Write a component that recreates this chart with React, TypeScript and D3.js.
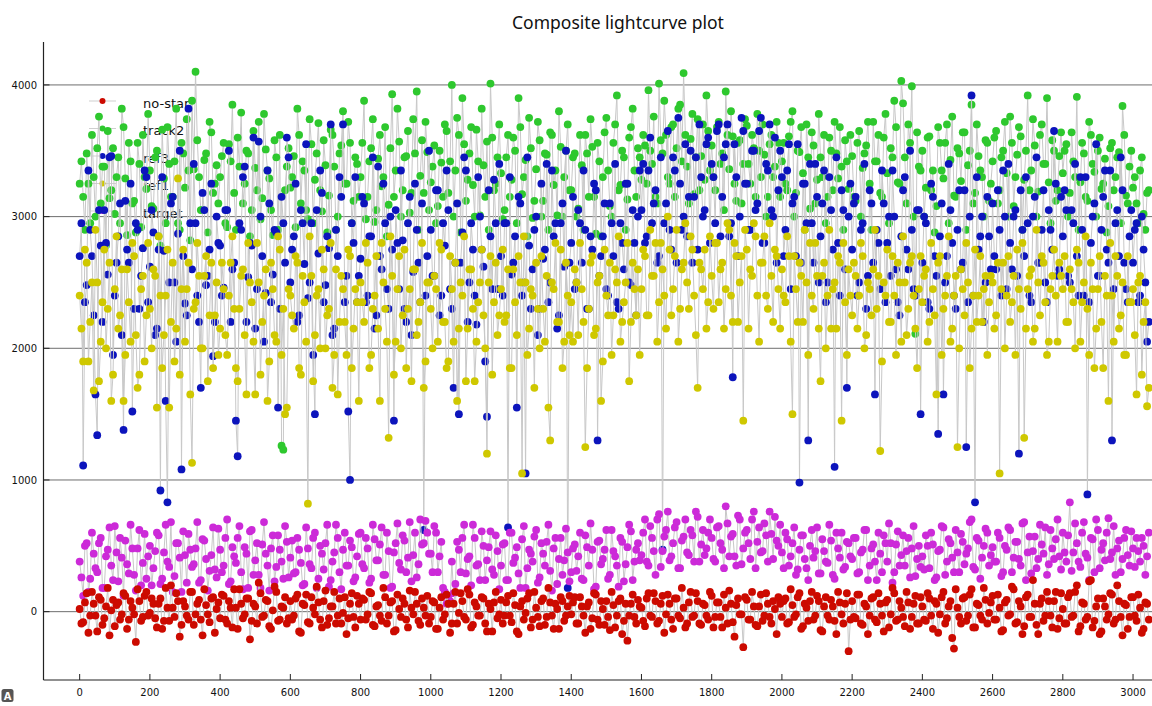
import React from "react";
import * as d3 from "d3";

const W = 1152;
const H = 706;

// frames are sampled every 10 units; the "B" lists hold the frames half a step later
const frameStep = 10;
const halfStep = 5;

const seriesNames = ["no-star", "track2", "ref3", "ref1", "target"];
const seriesColors = ["#cc0a00", "#2ec82e", "#0c14bc", "#cfc800", "#cc2ad8"];
const drawOrder = ["track2", "ref3", "ref1", "target", "no-star"];

const xTicks = [0, 200, 400, 600, 800, 1000, 1200, 1400, 1600, 1800, 2000, 2200, 2400, 2600, 2800, 3000];
const yTicks = [0, 1000, 2000, 3000, 4000];

const track2A = [
  3250,3150,3480,2950,3300,3520,3100,3380,3650,3200,3020,3450,3820,3290,3560,3100,2880,3400,3620,3210,
  3350,3060,3500,2780,3290,3680,3150,3420,2950,3560,3220,3350,3880,4100,3300,3050,3480,3720,3180,3390,
  3300,3560,2920,3420,3180,3600,3790,3250,3480,3050,3370,3720,3140,3510,3290,2860,3450,3620,1230,3380,
  3220,3460,3820,3100,3350,2980,3550,3280,3710,3040,3390,3160,3620,2900,3480,3800,3250,3560,3120,3400,
  3300,3880,3150,3520,2960,3440,3230,3680,3090,3930,3350,3570,3200,3460,3030,3740,3950,3310,3180,3490,
  3260,3540,3080,3410,3700,3180,4000,3350,3620,3900,3120,3480,3240,3660,3010,3390,3570,4010,3200,3450,
  3330,3050,3620,3280,3500,3900,3170,3430,3750,2990,3360,3580,3120,3470,3640,3240,3010,3530,3300,3700,
  3200,3480,3060,3390,3620,3150,3530,2870,3420,3300,3750,3080,3560,3920,3240,3450,3130,3680,3350,3520,
  3280,3540,3960,3400,3150,4010,3480,3620,3250,3700,3520,3850,4090,3380,3590,3170,3740,3460,3280,3650,
  3540,3200,3720,3480,3950,3360,3610,3120,3580,3400,3690,3250,3520,3780,3300,3470,3150,3620,3380,3560,
  3420,3250,3610,3800,3180,3490,3330,3700,3060,3540,3280,3450,3620,3150,3500,3720,3290,3380,3580,3210,
  3460,3120,3650,3370,3540,3250,3720,3420,3180,3600,3330,3520,3880,3260,4030,3450,3700,3990,2110,3380,
  3500,3220,3610,3350,3080,3560,3290,3700,3430,3160,3520,3270,3640,3390,3850,3180,3460,3300,3580,3120,
  3420,3650,3200,3500,3330,3760,3080,3470,3610,3280,3920,3350,3540,3190,3700,3400,3260,3580,3120,3460,
  3330,3550,3180,3420,3910,3260,3480,3120,3620,3340,3500,3210,3440,3080,3560,3300,3490,3840,3160,3380,
  3220,3100,3350,3020,3180,
];
const track2B = [
  3420,2900,3250,3620,3000,3760,3380,2780,3140,3520,3300,2950,3680,2860,3420,3120,3560,2920,3300,3780,
  3080,3450,2850,3660,2950,3400,3150,3820,2900,3480,3740,2820,3360,3580,3050,3430,2880,3640,3250,3100,
  3460,2950,3550,3850,2900,3380,3100,3500,2850,3650,3200,2980,3780,3350,3050,3580,2900,1260,3200,3520,
  3300,2920,3620,3420,3050,3740,2950,3480,3200,3580,2880,3660,3380,3000,3540,3250,3720,2950,3450,3150,
  3560,2980,3420,3740,3050,3620,3300,2850,3520,3150,3820,3000,3450,3650,3180,3480,2900,3580,3720,3050,
  3380,2950,3500,3150,3650,3420,3000,3750,2880,3550,3280,3680,3000,3420,3820,3150,2900,3600,3250,3700,
  2980,3450,3150,3600,2950,3680,3300,2850,3520,3120,3720,3000,3480,2900,3620,3350,3800,3000,3500,3200,
  3450,3000,3620,2900,3480,3740,3150,3560,2850,3640,3350,3000,3700,3200,3500,2900,3600,3820,3150,3450,
  3620,3250,3500,3760,3100,3580,3880,3300,3680,3150,3820,3420,3620,3100,3780,3450,3200,3700,3920,3350,
  3300,3680,3400,3050,3620,3800,3250,3560,3100,3740,3400,3620,3150,3500,3700,3000,3550,3300,3720,3150,
  3560,3200,3720,3000,3500,3680,2900,3450,3640,3100,3780,3300,2950,3600,3200,3480,3680,2900,3420,3620,
  3150,3560,3000,3480,3720,2900,3420,3620,3150,3780,2950,3450,3680,3250,3860,3100,3560,3000,3640,3350,
  3000,3600,3200,2880,3680,3350,3560,2950,3760,3150,3480,3640,2900,3500,3100,3700,3350,3000,3560,3250,
  3600,3100,3450,3720,3000,3560,3300,3680,2900,3500,3200,3740,3000,3620,3400,3900,2950,3500,3200,3640,
  3500,3000,3640,3300,2900,3560,3150,3720,3400,3000,3600,3250,2880,3520,3200,3450,2950,3620,3100,3500,
  3300,2950,3450,2900,3200,
];

const ref3A = [
  2700,1110,2480,2900,2250,1340,2780,3050,2560,3460,2400,2850,2100,3120,2650,1520,2950,2300,2760,3300,
  2620,2880,2150,920,2740,830,3100,2500,2870,1080,2340,3820,2600,2950,2200,3180,2480,2750,1940,3000,
  2780,2460,3050,2200,2650,1180,2900,3380,2540,2780,2150,3570,2700,2420,3100,2560,2880,2300,2950,3600,
  2500,2850,2200,3050,2640,2380,2950,1500,2720,3180,2480,2760,2100,2900,3300,3700,2550,1000,2800,2350,
  2680,3100,2400,2850,2150,3380,2600,2950,2300,2750,3050,2450,2820,2200,3150,2580,2900,2350,620,2700,
  2900,2550,3200,2400,2780,3050,2300,2650,1500,2880,3350,2500,2750,2180,3000,2620,1480,2850,3280,2450,
  2700,2950,640,2560,2850,3150,2400,1050,2780,2600,3000,2300,2680,3400,2500,2850,2150,2950,2620,180,
  2800,2450,3050,2650,2900,2300,2750,3200,2550,2850,2450,3100,2700,2350,2950,2600,3250,2480,2800,3000,
  3050,2800,3350,2950,3200,2700,470,3100,2900,3450,2650,3250,3000,2850,3500,3150,2750,3300,3050,3600,
  3400,2950,3700,3150,3550,2850,1780,3300,3000,3650,3250,2900,3500,3100,3750,2800,3350,3050,3600,3200,
  3300,2900,3550,3100,2700,980,3250,2950,3400,2650,3150,2850,3350,2500,3050,1100,2800,3200,2600,3000,
  2750,3150,2500,2950,2300,3200,2650,2900,2450,3100,2800,2550,3000,2350,2850,3300,2600,2900,2400,3050,
  2650,2950,2300,3150,2550,2850,1650,2700,3050,2400,2900,2600,3200,2350,3920,830,2750,3000,2500,2850,
  3100,2600,2900,3350,2450,2800,3000,2550,3200,2700,2950,2350,3150,2650,2900,2500,3050,2750,3250,2600,
  2850,3050,2500,2950,2700,3300,2400,890,2800,3100,2550,2900,3350,2650,1300,2950,2700,3200,2450,2850,
  2650,2950,2400,2750,2050,
];
const ref3B = [
  2950,2350,3350,2700,1650,3050,2200,2800,3450,1950,2650,3100,1380,2750,3250,2300,2900,2550,3350,2350,
  3050,2100,2750,3300,1600,2500,3150,2050,3500,2700,2250,2950,3400,2400,1700,3050,2550,3250,2200,2800,
  2400,3050,3500,2600,1450,2950,3300,2200,2800,3600,2450,3000,2050,3350,2350,2900,1550,3150,2650,3450,
  2750,3250,2250,2950,3550,2500,1950,3050,3350,2350,2850,3700,2150,2700,3150,2350,1520,2950,3300,2550,
  3150,2350,2850,3450,2250,2700,3250,2450,3000,1450,2800,3350,2300,2950,2100,3250,2650,3100,2400,3500,
  2550,3200,2250,2950,3350,2450,1700,3100,2650,3450,2200,2950,2400,3300,2750,1900,3200,2450,2950,3400,
  2400,2950,3300,2650,1550,3100,2500,3450,2300,2900,2100,3250,2750,2350,3350,2950,2250,3100,3500,2650,
  3150,2500,2950,3350,2300,2850,3250,1300,2700,3100,2400,2950,3400,2300,2800,3250,2500,3050,2250,3350,
  3400,2850,3600,3100,2650,3450,2950,3650,2750,3350,3750,2900,3550,3150,2650,3450,3700,3000,3550,2800,
  3300,3650,2850,3450,3700,2950,3550,2700,3750,3250,2900,3500,3050,3650,2800,3400,3700,3000,2650,3500,
  2700,3350,2450,3150,3550,2650,3250,1300,2950,3400,2500,3100,2350,3300,2750,3450,2400,3050,1700,3250,
  3100,2400,2900,3400,2550,3100,1650,2800,3350,2350,3000,3350,2600,2250,3200,2750,3500,2450,3050,1500,
  3000,2350,3250,2700,1350,3100,2500,3400,2800,2300,3200,2650,1250,3000,2400,3300,2850,2200,3150,2600,
  2700,3200,2400,3000,3400,2600,3050,1200,2900,3300,2400,3000,3450,2650,3200,2350,2900,3650,2550,3150,
  3200,2550,3050,3400,2400,2900,3300,2350,3000,3550,2550,3150,2750,3350,2450,3050,3450,2650,2350,3050,
  2900,2350,3000,2500,2200,
];

const ref1A = [
  2400,1900,2650,2200,1680,2500,2050,2750,2300,1600,2450,2150,2600,1950,2350,2800,2100,1800,2550,2250,
  2300,2600,1550,2400,2100,2750,2200,1900,3290,2450,2050,2650,1130,2350,2550,2000,2700,2250,1850,2500,
  2150,2450,1950,2650,2300,1750,2550,2100,2800,2350,1650,2500,2200,2600,1900,2450,2050,2750,2300,1550,
  2400,2150,2650,1800,2350,820,2550,2100,2450,2750,2000,2300,1700,2600,2200,2450,1950,2700,2150,2350,
  2500,2200,2650,1950,2400,2150,2800,2300,1320,2550,2050,2700,2250,1850,2450,2600,2100,2350,1700,2500,
  2300,2550,2050,2750,2200,1900,2450,2650,2150,2400,1750,2600,2300,2050,2500,2250,1200,2700,2350,2100,
  2450,2200,2600,1850,2350,2700,1050,2500,2150,2400,2650,2000,2300,2550,1300,2450,2200,2750,2050,2400,
  2350,2600,2100,2450,1250,2300,2700,2150,2550,1900,2400,2650,2250,2500,2050,2350,2800,2200,2450,2600,
  2450,2700,2250,2550,2800,2350,2600,2150,2750,2450,2900,2300,2650,2500,2850,2400,1700,2600,2750,2350,
  2550,2800,2350,2650,2450,2900,2200,2700,2500,1450,2750,2600,2950,2400,2650,2850,2300,2550,2750,2450,
  2600,2350,2700,1500,2450,2650,2200,2500,2800,2300,2550,1750,2650,2400,2150,2500,2700,1450,2350,2600,
  2250,2550,2400,2700,2100,2450,2600,2300,1220,2500,2750,2200,2400,2650,2050,2500,2300,2700,2150,2450,
  2350,2600,2200,2450,1650,2700,2300,2550,2050,2400,1250,2600,2250,2500,2150,2750,2400,2200,2550,2350,
  2500,2250,1050,2650,2400,2200,2550,2750,2300,1320,2450,2600,2150,2500,2700,2350,2050,2550,2400,2650,
  2450,2200,2600,2350,2750,2050,2500,2300,2650,1850,2450,2200,2550,1600,2400,2700,2150,2500,1950,2350,
  2450,1650,2550,2200,1560,
];
const ref1B = [
  2150,2750,1900,2500,2900,1750,2350,2000,2650,1800,2850,2250,1600,2600,2050,2700,1700,2450,1900,2800,
  2000,2550,2850,1850,2400,1550,2650,2150,1800,2750,2450,1650,2300,2800,2000,2550,1750,2650,2250,1950,
  2650,2100,2400,2850,1850,2300,2600,1650,2500,2050,2800,1800,2400,1600,2650,2100,2850,1950,1500,2450,
  2250,2700,1850,2550,2050,2850,1750,2400,2000,2600,2250,2800,1950,1650,2550,2200,2750,1850,2450,1600,
  2350,2800,1850,2300,2700,1600,2500,2050,2850,1800,2450,2000,2750,2300,1750,2600,2200,2800,1900,2500,
  2000,2450,2800,2200,1850,2700,2050,1600,2500,2850,2150,2600,1750,2350,2750,2000,2500,1800,2650,2250,
  2750,2250,1850,2600,2100,2500,2850,1950,2450,1700,2300,2700,2050,1550,2500,2800,2200,1850,2650,2100,
  2050,2500,2800,2200,1850,2650,2100,2500,1600,2750,2250,1950,2600,2850,2200,2500,1750,2650,2250,1950,
  2750,2250,2900,2550,2050,2800,2400,3000,2250,2700,2050,2600,2950,2300,2750,2100,2650,2450,2150,2850,
  2300,2800,2600,2150,2950,2400,2800,2200,2700,2900,2150,2550,2850,2050,2650,2400,2950,2200,2700,2150,
  2400,2850,2050,2700,2200,2550,2900,1950,2400,2800,2150,2550,2000,2900,2450,2150,2650,2800,1950,2400,
  2650,2150,2800,2000,2500,2250,2900,2550,1900,2400,2200,2700,1950,2500,2850,2100,2650,2400,1850,2700,
  2550,2050,2800,2250,2650,1950,2400,2850,2150,2550,2000,2450,2800,1850,2400,2200,2700,2450,1950,2550,
  2150,2650,2450,2000,2700,2350,1950,2450,2800,2150,2550,2050,2900,2250,2650,1950,2450,2750,2050,2550,
  2700,2200,2450,2000,2650,2350,2850,1950,2450,2150,2700,1850,2400,2800,2050,2550,2250,1950,2700,2350,
  2100,2500,1800,2350,1700,
];

const targetA = [
  380,120,520,250,440,300,560,180,470,350,650,230,410,540,290,480,160,620,370,250,
  500,330,600,210,450,380,680,270,520,150,430,590,340,480,220,550,400,310,640,260,
  470,350,700,230,420,560,300,490,180,620,390,280,510,440,160,580,340,470,250,530,
  410,290,560,370,210,480,330,600,250,440,520,190,380,660,300,470,350,540,230,420,
  600,330,480,250,550,390,640,280,460,190,520,370,580,300,680,430,260,700,520,600,
  440,650,300,530,150,120,380,210,470,560,290,420,660,350,240,500,390,610,280,460,
  350,520,240,600,410,290,550,180,470,380,620,260,440,530,310,480,210,560,390,450,
  300,510,420,250,580,350,470,190,540,400,620,280,460,350,560,230,490,610,380,520,
  430,700,350,560,280,740,460,620,390,520,680,330,570,450,620,380,720,510,430,600,
  560,380,650,470,800,420,590,350,700,480,620,400,760,530,450,670,380,590,720,500,
  450,600,350,520,280,470,580,330,500,410,640,290,460,370,540,250,480,600,340,520,
  400,560,300,470,620,350,510,240,440,580,380,520,300,610,430,350,560,480,270,500,
  420,580,330,510,260,470,640,380,520,300,450,590,360,480,700,320,540,410,630,350,
  490,380,560,300,470,620,410,530,350,680,450,290,570,400,510,640,360,480,550,420,
  600,380,830,450,520,340,680,410,560,300,620,470,390,710,450,280,540,400,620,350,
  480,560,380,500,420,
];
const targetB = [
  260,500,150,600,330,520,180,420,640,240,450,560,120,360,660,280,480,200,590,420,
  200,460,580,250,660,340,150,520,410,610,220,470,360,680,240,540,160,430,320,630,
  300,560,210,490,370,650,170,440,610,280,520,180,680,350,480,230,580,380,650,260,
  540,300,470,200,640,360,560,180,500,320,660,240,450,560,170,600,350,490,260,590,
  360,560,220,660,390,510,280,600,180,450,670,320,540,410,230,600,360,510,690,440,
  300,600,420,180,60,80,140,530,300,660,400,200,560,360,610,240,490,320,580,170,
  510,240,600,370,490,180,650,330,440,570,220,520,350,660,160,560,400,280,630,230,
  480,310,600,240,490,670,170,530,360,470,250,620,420,190,530,360,660,240,470,390,
  600,380,650,460,700,340,570,760,420,640,330,540,700,430,580,760,380,620,480,700,
  400,640,520,330,670,570,420,730,360,600,520,700,330,640,460,580,760,400,540,660,
  330,550,420,640,320,580,400,240,620,460,290,550,380,660,280,600,410,320,530,420,
  560,290,450,620,240,480,380,600,300,520,670,220,510,350,580,460,260,650,400,340,
  320,500,600,240,460,650,280,550,410,620,300,530,440,680,340,560,250,500,600,430,
  380,600,270,500,640,300,530,400,670,240,570,460,330,660,440,280,620,400,700,320,
  450,580,310,670,380,600,440,240,550,700,330,520,600,400,650,480,300,560,430,610,
  340,460,560,280,600,
];

const noStarA = [
  20,-80,140,-30,60,-150,90,-50,180,10,-110,70,-20,120,-60,30,-230,80,-40,150,
  -10,60,-120,100,-70,30,200,-40,80,-100,40,-60,150,-20,90,-180,50,-80,110,20,
  -50,120,-90,30,170,-130,60,-20,100,-70,40,220,-40,90,-110,10,150,-60,30,-90,
  80,-30,130,-160,50,-80,110,-20,70,-120,160,-50,40,-90,100,-10,-170,60,-40,120,
  -60,90,-20,140,-110,50,-70,110,-30,80,-140,20,100,-60,160,-20,60,-100,30,120,
  -40,70,-130,110,-20,60,-90,150,-10,80,-60,130,-100,40,-30,100,-150,20,70,-50,
  90,-30,120,-80,50,-170,80,-10,140,-60,30,-110,100,-40,70,-130,20,110,-70,40,
  -20,110,-90,40,-160,70,-50,130,-100,20,80,-140,50,-30,100,-70,-220,60,-40,90,
  30,-110,140,-40,80,-70,120,-20,60,-130,100,-50,30,-90,150,-30,80,-100,50,-60,
  120,-40,70,-120,30,160,-80,50,-20,-270,90,-60,40,-110,130,-30,60,-90,20,110,
  -40,100,-80,50,-20,140,-110,30,80,-60,120,-140,40,-30,90,-70,150,-20,60,-300,
  80,-50,130,-100,40,-30,110,-80,60,-150,90,-20,140,-60,30,-110,70,-40,120,-90,
  40,-70,100,-130,60,-20,150,-50,80,-280,30,-90,110,-30,170,-120,50,-60,90,-10,
  120,-60,30,-140,90,-20,170,-80,40,-110,130,-40,60,-170,100,-30,80,-120,150,-50,
  20,-90,140,-30,200,-110,60,-40,240,-70,100,-150,40,-20,130,-60,80,-180,50,-40,
  110,-70,30,-130,60,
];
const noStarB = [
  -90,70,-160,150,-30,110,-100,40,-180,90,50,-60,140,-130,80,-20,170,-70,120,-30,
  100,-50,60,-130,180,-70,30,140,-190,80,-30,150,-100,60,-60,170,-20,100,-160,70,
  130,-60,80,-120,30,170,-50,100,-210,60,-90,140,-30,80,-130,190,-70,40,110,-50,
  -60,100,-150,60,130,-90,30,190,-60,80,-100,40,150,-30,-90,110,-50,140,-120,60,
  100,-60,150,-100,40,-30,180,-90,70,-150,130,-40,60,-120,30,150,-70,100,-30,-90,
  80,-130,30,-60,130,-160,60,-90,140,-40,170,-120,70,-30,110,-90,60,-150,150,-20,
  -90,70,-30,140,-150,40,-60,100,-120,150,-40,80,-100,180,-30,60,-130,80,-30,120,
  70,-90,110,-30,40,-130,140,-60,80,-100,-40,150,-120,80,-170,60,-30,130,-90,40,
  -70,100,-30,140,-90,60,-160,130,-60,100,-30,180,-120,70,-40,140,-90,60,-30,150,
  -120,70,-40,130,-90,60,-190,100,-20,110,-60,150,-100,40,-70,140,-40,80,-170,60,
  80,-90,170,-40,110,-130,60,-70,150,-30,80,-150,110,-60,40,-170,70,-90,140,-60,
  -40,130,-90,60,-170,100,-60,140,-30,70,-120,180,-70,80,-40,150,-130,60,-90,110,
  -60,140,-30,80,-160,110,-90,40,-200,170,-40,100,-70,130,-120,60,-30,180,-90,70,
  -60,130,-150,70,-30,190,-90,80,-170,110,-40,240,-100,60,-70,150,-30,80,-130,140,
  -90,110,-40,150,-150,70,-60,230,-120,40,-170,100,-60,140,-90,200,-40,60,-130,110,
  -30,130,-160,70,-60,
];

const seriesLists: Record<string, [number[], number[]]> = {
  "no-star": [noStarA, noStarB],
  track2: [track2A, track2B],
  ref3: [ref3A, ref3B],
  ref1: [ref1A, ref1B],
  target: [targetA, targetB],
};

type Pt = [number, number];
function toPoints(a: number[], b: number[]): Pt[] {
  const out: Pt[] = [];
  a.forEach((v, i) => {
    out.push([i * frameStep, v]);
    if (i < b.length) out.push([i * frameStep + halfStep, b[i]]);
  });
  return out;
}

const plotLeft = 43.5;
const plotRight = W;
const plotTop = 42;
const plotBottom = 680;

export default function App() {
  const x = d3.scaleLinear().domain([-103, 3054]).range([plotLeft, plotRight]);
  const y = d3.scaleLinear().domain([-519, 4326]).range([plotBottom, plotTop]);
  const color = d3.scaleOrdinal<string, string>().domain(seriesNames).range(seriesColors);

  const line = d3
    .line<Pt>()
    .x((d) => x(d[0]))
    .y((d) => y(d[1]));

  const legendY = d3.scalePoint<string>().domain(seriesNames).range([101, 211]);

  return (
    <svg
      width={W}
      height={H}
      style={{ position: "absolute", left: 0, top: 0, background: "#fff" }}
      fontFamily="'DejaVu Sans', Verdana, sans-serif"
    >
      <defs>
        <clipPath id="plotClip">
          <rect x={plotLeft} y={plotTop} width={plotRight - plotLeft} height={plotBottom - plotTop} />
        </clipPath>
      </defs>
      <rect x={0} y={0} width={W} height={H} fill="#fff" />

      <text x={618} y={29} textAnchor="middle" fontSize={17.5} fontFamily="'Noto Sans', 'Open Sans', sans-serif" fill="#111">
        Composite lightcurve plot
      </text>

      {yTicks.map((t) => (
        <line key={"g" + t} x1={plotLeft} x2={plotRight} y1={y(t)} y2={y(t)} stroke="#6e6e6e" strokeWidth={1} />
      ))}

      {seriesNames.map((s) => (
        <g key={"lg" + s}>
          <line x1={89} x2={116} y1={legendY(s)} y2={legendY(s)} stroke="#cfcfcf" strokeWidth={1} />
          <circle cx={102.5} cy={legendY(s)} r={3} fill={color(s)} />
          <text x={143} y={(legendY(s) as number) + 6.5} fontSize={13} fill="#111">
            {s}
          </text>
        </g>
      ))}

      <g clipPath="url(#plotClip)">
        {drawOrder.map((s) => {
          const [a, b] = seriesLists[s];
          const pts = toPoints(a, b);
          return (
            <g key={"s" + s}>
              <path d={line(pts) || ""} fill="none" stroke="#c8c8c8" strokeWidth={1} />
              {pts.map((p, i) => (
                <circle key={i} cx={x(p[0])} cy={y(p[1])} r={3.9} fill={color(s)} />
              ))}
            </g>
          );
        })}
      </g>

      <line x1={plotLeft} x2={plotLeft} y1={plotTop} y2={plotBottom} stroke="#222" strokeWidth={1.2} />
      <line x1={plotLeft} x2={plotRight} y1={plotBottom} y2={plotBottom} stroke="#222" strokeWidth={1.2} />

      {xTicks.map((t) => (
        <g key={"xt" + t}>
          <line x1={x(t)} x2={x(t)} y1={plotBottom} y2={plotBottom - 6} stroke="#222" strokeWidth={1} />
          <text x={x(t)} y={696} textAnchor="middle" fontSize={10} fill="#111">
            {t}
          </text>
        </g>
      ))}
      {yTicks.map((t) => (
        <g key={"yt" + t}>
          <line x1={plotLeft} x2={plotLeft + 6} y1={y(t)} y2={y(t)} stroke="#222" strokeWidth={1} />
          <text x={37} y={y(t) + 3.6} textAnchor="end" fontSize={10} fill="#111">
            {t}
          </text>
        </g>
      ))}

      <rect x={1.5} y={689} width={12} height={13} rx={2.5} fill="#555" />
      <text x={7.5} y={699.5} textAnchor="middle" fontSize={10} fontWeight="bold" fill="#fff">
        A
      </text>
    </svg>
  );
}
